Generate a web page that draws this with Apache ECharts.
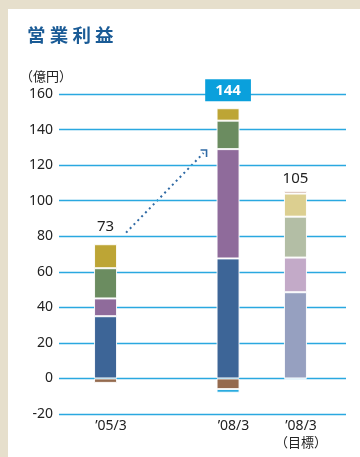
<!DOCTYPE html>
<html>
<head>
<meta charset="utf-8">
<script src="https://cdn.jsdelivr.net/npm/echarts/dist/echarts.min.js"></script>
<style>
  html, body { margin: 0; padding: 0; width: 360px; height: 457px; overflow: hidden; background: #e6dfcc; }
  #chart { position: absolute; left: 8px; top: 9px; width: 352px; height: 448px; background: #ffffff; }
</style>
</head>
<body>
<div id="chart"></div>
<script>
// 営業利益 (億円) — actual results and the FY'08/3 target, stacked by segment
const categories = ['’05/3', '’08/3'];
const targetCategories = ['', '’08/3'];
const targetNote = '（目標）';
const unitLabel = '（億円）';
const titleText = '営 業 利 益';

const yMin = -20;
const yMax = 160;
const yStep = 20;

// actual results, one array per segment
const segBlue   = [35, 67.5];
const segPurple = [10, 61.5];
const segGreen  = [17, 16];
const segGold   = [13.5, 7];
const segBrown  = [-2.5, -6];
const segCyan   = [null, -2];

// target, one array per segment
const tgtBlue   = [null, 48.5];
const tgtPurple = [null, 19.5];
const tgtGreen  = [null, 23];
const tgtGold   = [null, 13];
const tgtBrown  = [null, 1.5];
const tgtCyan   = [null, -0.5];

// growth arrow, from / to values on the yen axis
const arrowFrom = 82;
const arrowTo = 128.5;

const actualSegs = [segBlue, segPurple, segGreen, segGold, segBrown, segCyan];
const targetSegs = [tgtBlue, tgtPurple, tgtGreen, tgtGold, tgtBrown, tgtCyan];
const sumAt = (segs, i) => segs.reduce((s, a) => s + (a[i] || 0), 0);
const totalActual = categories.map((_, i) => sumAt(actualSegs, i));
const totalTarget = categories.map((_, i) => sumAt(targetSegs, i));

const FONT = "'Noto Sans', 'Noto Sans CJK JP', sans-serif";
const CJK = "'Noto Sans CJK JP', 'Noto Sans', sans-serif";

const actualColors = ['#3d6597', '#8f6b9b', '#6b8c60', '#bda535', '#946a4e', '#14a2dc'];
const targetColors = ['#96a0c0', '#c3aac8', '#b3bea5', '#dccf90', '#c9a898', '#c6e4f4'];

function barSeries(name, data, color, stack) {
  return {
    type: 'bar', name, data, stack,
    xAxisIndex: 1, yAxisIndex: 1,
    barWidth: 23, barGap: '193%',
    silent: true,
    itemStyle: { color, borderColor: 'rgba(255,255,255,0.9)', borderWidth: 1 },
    emphasis: { disabled: true }
  };
}

const series = [];
actualSegs.forEach((d, k) => series.push(barSeries('actual' + k, d, actualColors[k], 'actual')));
targetSegs.forEach((d, k) => series.push(barSeries('target' + k, d, targetColors[k], 'target')));

// total labels on the topmost positive segment of each stack
series[3].label = {
  show: true, position: 'top', distance: 8,
  formatter: p => p.dataIndex === 1 ? '{box|' + totalActual[p.dataIndex] + '}' : '{plain|' + totalActual[p.dataIndex] + '}',
  rich: {
    box: { backgroundColor: '#0aa0dc', color: '#fff', fontWeight: 'bold', fontSize: 15, fontFamily: FONT, padding: [4, 10, 3, 10], lineHeight: 16 },
    plain: { color: '#222', fontSize: 15, fontFamily: FONT, lineHeight: 18 }
  }
};
series[3].labelLayout = p => p.dataIndex === 1 ? { dy: -2 } : {};
series[10].label = {
  show: true, position: 'top', distance: 5,
  formatter: p => String(totalTarget[p.dataIndex]),
  color: '#222', fontSize: 15, fontFamily: FONT
};

const chart = echarts.init(document.getElementById('chart'), null, { renderer: 'canvas' });

const headerGraphics = [
  { type: 'text', left: 19, top: 17, style: { text: titleText, fill: '#1a5b96', font: 'bold 18.5px ' + CJK } },
  { type: 'text', left: 12, top: 61, style: { text: unitLabel, fill: '#222', font: '13px ' + CJK } }
];

const option = {
  animation: false,
  backgroundColor: '#ffffff',
  grid: [
    { left: 51, right: 14, top: 85, bottom: 43 },
    { left: 70, right: 37, top: 85, bottom: 43 }
  ],
  xAxis: [
    { gridIndex: 0, type: 'value', min: 0, max: 1, show: false },
    {
      gridIndex: 1, type: 'category', data: categories,
      axisLine: { show: false }, axisTick: { show: false },
      axisLabel: {
        margin: 5, interval: 0,
        formatter: (v, i) => targetCategories[i]
          ? '{sp|}{c|' + v + '}{c|' + targetCategories[i] + '}\n{sp|}{c|}{n|' + targetNote + '}'
          : '{sp|}{c|' + v + '}{c|}',
        rich: {
          sp: { width: 11 },
          c: { width: 67.5, align: 'center', fontSize: 14, color: '#222', fontFamily: FONT, lineHeight: 15 },
          n: { width: 67.5, align: 'center', fontSize: 13, color: '#222', fontFamily: CJK, lineHeight: 16 }
        }
      }
    }
  ],
  yAxis: [
    {
      gridIndex: 0, type: 'value', min: yMin, max: yMax, interval: yStep,
      axisLine: { show: false }, axisTick: { show: false },
      axisLabel: { color: '#222', fontSize: 14, fontFamily: FONT, margin: 6 },
      splitLine: { lineStyle: { color: '#2aa8e0', width: 1.3 } }
    },
    { gridIndex: 1, type: 'value', min: yMin, max: yMax, interval: yStep, show: false, splitLine: { show: false } }
  ],
  graphic: headerGraphics,
  series
};

chart.setOption(option);

// dotted growth arrow between the '05/3 and '08/3 results
function barLayout(seriesIndex, dataIndex) {
  return chart.getModel().getSeriesByIndex(seriesIndex).getData().getItemLayout(dataIndex);
}
const b1 = barLayout(0, 0);
const b2 = barLayout(0, 1);
const yPix = v => chart.convertToPixel({ yAxisIndex: 1 }, v);
const x1 = Math.max(b1.x, b1.x + b1.width) + 9;
const y1 = yPix(arrowFrom);
const x2 = Math.min(b2.x, b2.x + b2.width) - 10;
const y2 = yPix(arrowTo);
chart.setOption({
  graphic: headerGraphics.concat([
    {
      type: 'line', silent: true,
      shape: { x1: x1, y1: y1, x2: x2 - 3, y2: y2 + 3 },
      style: { stroke: '#2f6aa5', lineWidth: 2, lineDash: [2, 3.5] }
    },
    {
      type: 'polyline', silent: true,
      shape: { points: [[x2 - 6, y2], [x2, y2], [x2, y2 + 7]] },
      style: { stroke: '#2f6aa5', lineWidth: 1.6, fill: null }
    }
  ])
});
</script>
</body>
</html>
